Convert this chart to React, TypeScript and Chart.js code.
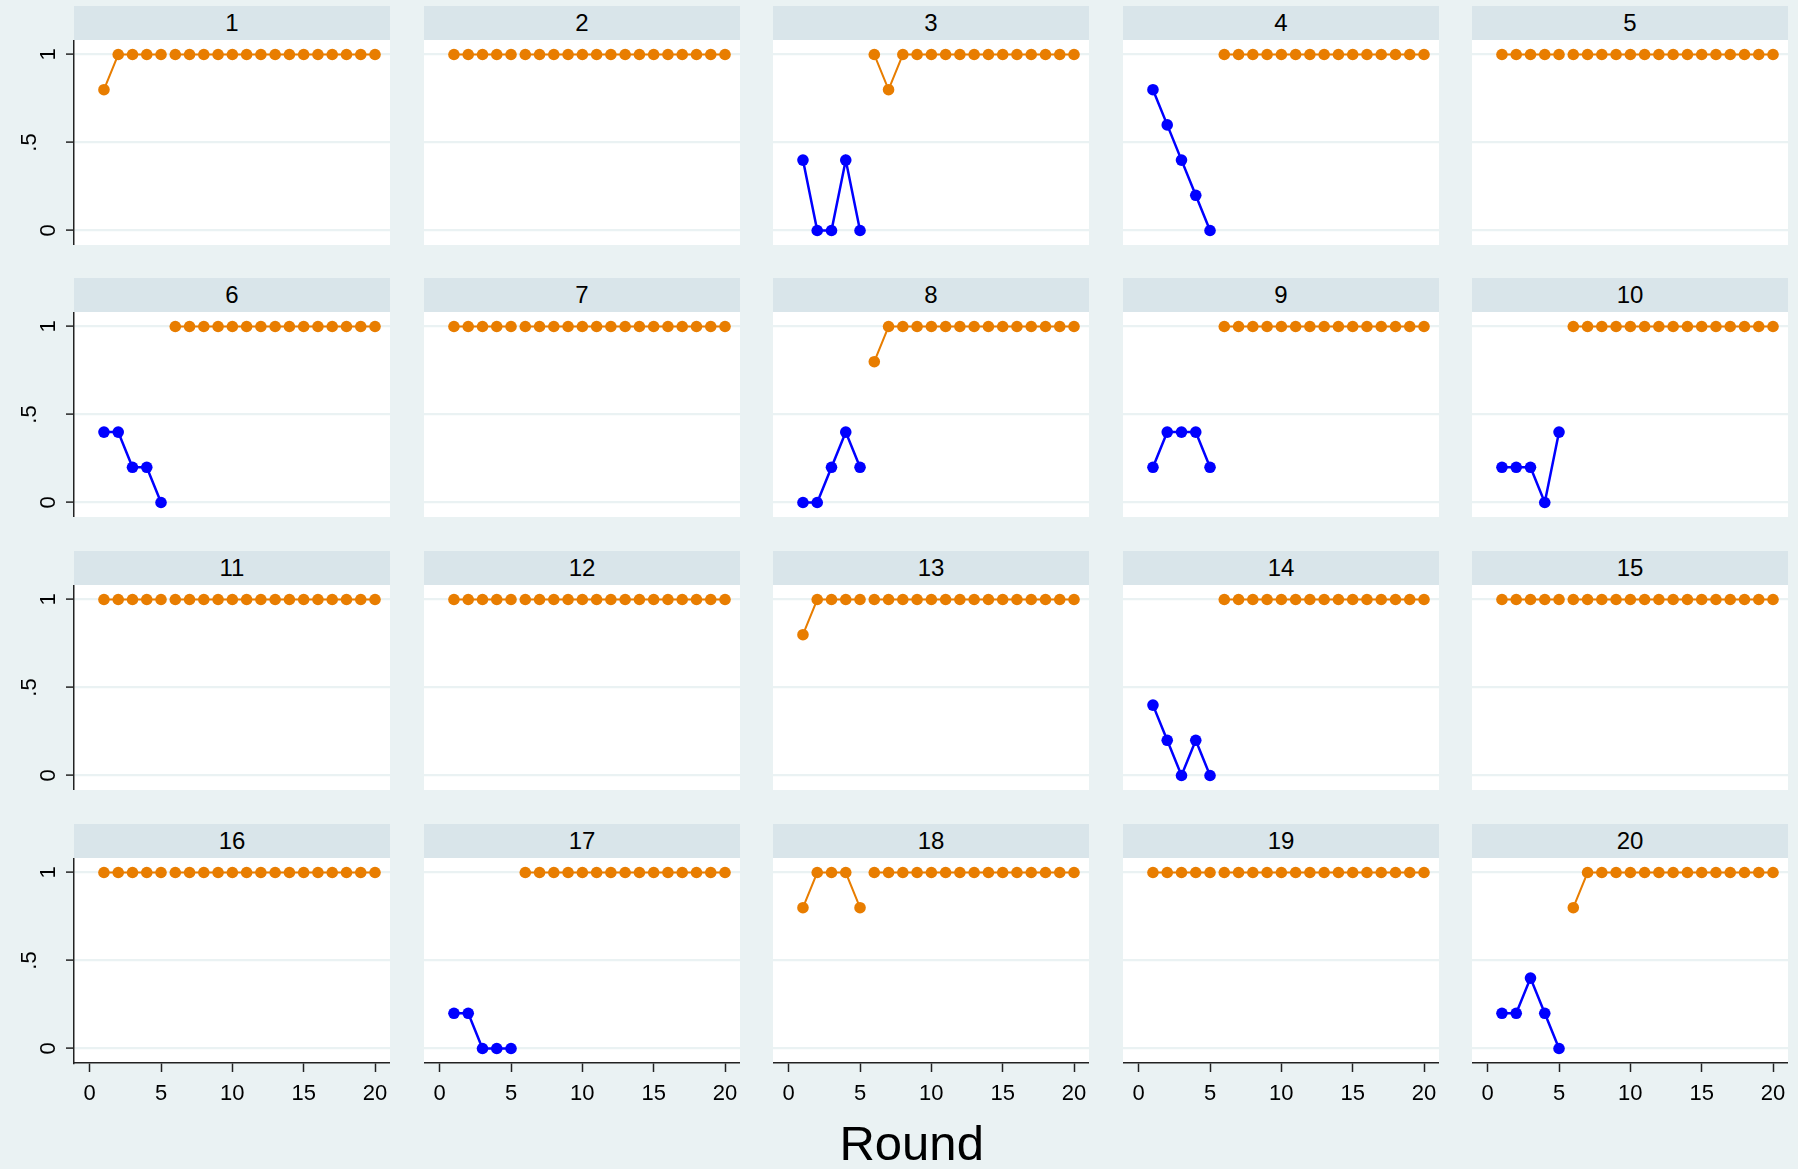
import React, { useEffect, useRef } from "react";
import { Chart, registerables } from "chart.js";

Chart.register(...registerables);

// ---------------- data ----------------
const panelLabels = ["1", "2", "3", "4", "5", "6", "7", "8", "9", "10", "11", "12", "13", "14", "15", "16", "17", "18", "19", "20"];
const phase1Rounds = [1, 2, 3, 4, 5];
const phase2Rounds = [6, 7, 8, 9, 10, 11, 12, 13, 14, 15, 16, 17, 18, 19, 20];

// colour group of the first phase (rounds 1-5) for each panel
const phase1Group = [
  "orange", "orange", "blue", "blue", "orange",
  "blue", "orange", "blue", "blue", "blue",
  "orange", "orange", "orange", "blue", "orange",
  "orange", "blue", "orange", "orange", "blue",
];

const phase1Values = [
  [0.8, 1, 1, 1, 1],
  [1, 1, 1, 1, 1],
  [0.4, 0, 0, 0.4, 0],
  [0.8, 0.6, 0.4, 0.2, 0],
  [1, 1, 1, 1, 1],
  [0.4, 0.4, 0.2, 0.2, 0],
  [1, 1, 1, 1, 1],
  [0, 0, 0.2, 0.4, 0.2],
  [0.2, 0.4, 0.4, 0.4, 0.2],
  [0.2, 0.2, 0.2, 0, 0.4],
  [1, 1, 1, 1, 1],
  [1, 1, 1, 1, 1],
  [0.8, 1, 1, 1, 1],
  [0.4, 0.2, 0, 0.2, 0],
  [1, 1, 1, 1, 1],
  [1, 1, 1, 1, 1],
  [0.2, 0.2, 0, 0, 0],
  [0.8, 1, 1, 1, 0.8],
  [1, 1, 1, 1, 1],
  [0.2, 0.2, 0.4, 0.2, 0],
];

const phase2Values = [
  [1, 1, 1, 1, 1, 1, 1, 1, 1, 1, 1, 1, 1, 1, 1],
  [1, 1, 1, 1, 1, 1, 1, 1, 1, 1, 1, 1, 1, 1, 1],
  [1, 0.8, 1, 1, 1, 1, 1, 1, 1, 1, 1, 1, 1, 1, 1],
  [1, 1, 1, 1, 1, 1, 1, 1, 1, 1, 1, 1, 1, 1, 1],
  [1, 1, 1, 1, 1, 1, 1, 1, 1, 1, 1, 1, 1, 1, 1],
  [1, 1, 1, 1, 1, 1, 1, 1, 1, 1, 1, 1, 1, 1, 1],
  [1, 1, 1, 1, 1, 1, 1, 1, 1, 1, 1, 1, 1, 1, 1],
  [0.8, 1, 1, 1, 1, 1, 1, 1, 1, 1, 1, 1, 1, 1, 1],
  [1, 1, 1, 1, 1, 1, 1, 1, 1, 1, 1, 1, 1, 1, 1],
  [1, 1, 1, 1, 1, 1, 1, 1, 1, 1, 1, 1, 1, 1, 1],
  [1, 1, 1, 1, 1, 1, 1, 1, 1, 1, 1, 1, 1, 1, 1],
  [1, 1, 1, 1, 1, 1, 1, 1, 1, 1, 1, 1, 1, 1, 1],
  [1, 1, 1, 1, 1, 1, 1, 1, 1, 1, 1, 1, 1, 1, 1],
  [1, 1, 1, 1, 1, 1, 1, 1, 1, 1, 1, 1, 1, 1, 1],
  [1, 1, 1, 1, 1, 1, 1, 1, 1, 1, 1, 1, 1, 1, 1],
  [1, 1, 1, 1, 1, 1, 1, 1, 1, 1, 1, 1, 1, 1, 1],
  [1, 1, 1, 1, 1, 1, 1, 1, 1, 1, 1, 1, 1, 1, 1],
  [1, 1, 1, 1, 1, 1, 1, 1, 1, 1, 1, 1, 1, 1, 1],
  [1, 1, 1, 1, 1, 1, 1, 1, 1, 1, 1, 1, 1, 1, 1],
  [0.8, 1, 1, 1, 1, 1, 1, 1, 1, 1, 1, 1, 1, 1, 1],
];

const xTickValues = [0, 5, 10, 15, 20];
const xTickLabels = ["0", "5", "10", "15", "20"];
const yTickValues = [0, 0.5, 1];
const yTickLabels = ["0", ".5", "1"];
const xAxisTitle = "Round";

// ---------------- style ----------------
const FONT = '"Liberation Sans", Arial, Helvetica, sans-serif';
const BG = "#EAF2F3";
const STRIP = "#D9E5EA";
const GRID = "#EAF2F3";
const AXIS = "#222222";
const COLORS: Record<string, string> = { orange: "#E87D00", blue: "#0000FF" };

const NCOL = 5;
const PLOT_W = 316;
const PLOT_H = 205;
const HEADER_H = 34;
const COL_X0 = 74;
const COL_PITCH = 349.5;
const ROW_Y0 = 5.5;
const ROW_PITCH = 272.7;
const LEFT_MARGIN = 60;
const BOTTOM_MARGIN = 60;
const X_MIN = -1.1;
const X_MAX = 21.05;
const Y_MIN = -0.0824;
const Y_MAX = 1.0824;

const plotBgPlugin = {
  id: "plotBg",
  beforeDraw(chart: any) {
    const { ctx, chartArea } = chart;
    ctx.save();
    ctx.fillStyle = "#FFFFFF";
    ctx.fillRect(chartArea.left, chartArea.top, chartArea.right - chartArea.left, chartArea.bottom - chartArea.top);
    ctx.restore();
  },
};

const yLabelPlugin = {
  id: "yLabels",
  afterDraw(chart: any, _args: any, opts: any) {
    if (!opts || !opts.show) return;
    const ctx = chart.ctx;
    const ys = chart.scales.y;
    ctx.save();
    ctx.font = `22px ${FONT}`;
    ctx.fillStyle = "#000";
    ctx.textAlign = "center";
    ctx.textBaseline = "alphabetic";
    yTickValues.forEach((v, k) => {
      const label = yTickLabels[k];
      const py = ys.getPixelForValue(v);
      const gap = label.startsWith(".") ? 38 : 19;
      ctx.save();
      ctx.translate(chart.chartArea.left - gap, py);
      ctx.rotate(-Math.PI / 2);
      ctx.fillText(label, 0, 0);
      ctx.restore();
    });
    ctx.restore();
  },
};

function Panel({ index }: { index: number }) {
  const ref = useRef<HTMLCanvasElement | null>(null);
  const col = index % NCOL;
  const row = Math.floor(index / NCOL);
  const showY = col === 0;
  const showX = row === 3;
  const plotLeft = Math.round(COL_X0 + col * COL_PITCH);
  const headerTop = Math.round(ROW_Y0 + row * ROW_PITCH);
  const plotTop = headerTop + HEADER_H;
  const lm = showY ? LEFT_MARGIN : 0;
  const bm = showX ? BOTTOM_MARGIN : 0;
  const cw = PLOT_W + lm;
  const ch = PLOT_H + bm;

  useEffect(() => {
    if (!ref.current) return;
    const c1 = COLORS[phase1Group[index]];
    const c2 = COLORS.orange;
    const mk = (color: string, w: number) => ({
      borderColor: color,
      backgroundColor: color,
      pointBackgroundColor: color,
      pointBorderColor: color,
      pointBorderWidth: 0,
      pointRadius: 5.8,
      borderWidth: w,
      tension: 0,
      showLine: true,
      fill: false,
    });
    const chart = new Chart(ref.current, {
      type: "line",
      data: {
        datasets: [
          {
            ...mk(c1, phase1Group[index] === "blue" ? 2.5 : 2),
            data: phase1Rounds.map((x, k) => ({ x, y: phase1Values[index][k] })),
          },
          {
            ...mk(c2, 2),
            data: phase2Rounds.map((x, k) => ({ x, y: phase2Values[index][k] })),
          },
        ],
      },
      options: {
        responsive: false,
        maintainAspectRatio: false,
        animation: false,
        events: [],
        layout: { padding: 0, autoPadding: false },
        plugins: {
          legend: { display: false },
          tooltip: { enabled: false },
          title: { display: false },
          yLabels: { show: showY },
        } as any,
        scales: {
          x: {
            type: "linear",
            min: X_MIN,
            max: X_MAX,
            display: showX,
            afterBuildTicks: (s: any) => {
              s.ticks = xTickValues.map((v) => ({ value: v }));
            },
            afterFit: (s: any) => {
              s.height = bm;
              s.paddingLeft = 0;
              s.paddingRight = 0;
              s.paddingTop = 0;
              s.paddingBottom = 0;
            },
            grid: {
              display: true,
              drawOnChartArea: false,
              drawTicks: true,
              tickLength: 9,
              tickColor: AXIS,
              tickWidth: 1.5,
            },
            border: { display: true, color: AXIS, width: 1.5 },
            ticks: {
              autoSkip: false,
              maxRotation: 0,
              minRotation: 0,
              padding: 9,
              color: "#000",
              font: { family: FONT, size: 22 },
              callback: (v: any) => {
                const k = xTickValues.indexOf(Number(v));
                return k >= 0 ? xTickLabels[k] : "";
              },
            },
          },
          y: {
            type: "linear",
            min: Y_MIN,
            max: Y_MAX,
            display: true,
            afterBuildTicks: (s: any) => {
              s.ticks = yTickValues.map((v) => ({ value: v }));
            },
            afterFit: (s: any) => {
              s.width = lm;
              s.paddingLeft = 0;
              s.paddingRight = 0;
              s.paddingTop = 0;
              s.paddingBottom = 0;
            },
            grid: {
              display: true,
              drawOnChartArea: true,
              color: GRID,
              lineWidth: 2.2,
              drawTicks: showY,
              tickLength: 8,
              tickColor: AXIS,
              tickWidth: 1.5,
            },
            border: { display: showY, color: AXIS, width: 1.5 },
            ticks: { display: false },
          },
        },
      } as any,
      plugins: [plotBgPlugin, yLabelPlugin],
    });
    return () => chart.destroy();
  }, [index]);

  return (
    <>
      <div
        style={{
          position: "absolute",
          left: plotLeft,
          top: headerTop,
          width: PLOT_W,
          height: HEADER_H,
          background: STRIP,
          fontFamily: FONT,
          fontSize: 24,
          lineHeight: `${HEADER_H}px`,
          textAlign: "center",
          color: "#000",
        }}
      >
        {panelLabels[index]}
      </div>
      <canvas
        ref={ref}
        width={cw}
        height={ch}
        style={{
          position: "absolute",
          left: plotLeft - lm,
          top: plotTop,
          width: cw,
          height: ch,
          display: "block",
        }}
      />
    </>
  );
}

export default function App() {
  return (
    <div
      style={{
        position: "absolute",
        left: 0,
        top: 0,
        width: 1798,
        height: 1169,
        background: BG,
        overflow: "hidden",
      }}
    >
      {panelLabels.map((_, i) => (
        <Panel key={i} index={i} />
      ))}
      <div
        style={{
          position: "absolute",
          left: 711.7,
          top: 1119,
          width: 400,
          textAlign: "center",
          fontFamily: FONT,
          fontSize: 49,
          lineHeight: "49px",
          color: "#000",
        }}
      >
        {xAxisTitle}
      </div>
    </div>
  );
}
